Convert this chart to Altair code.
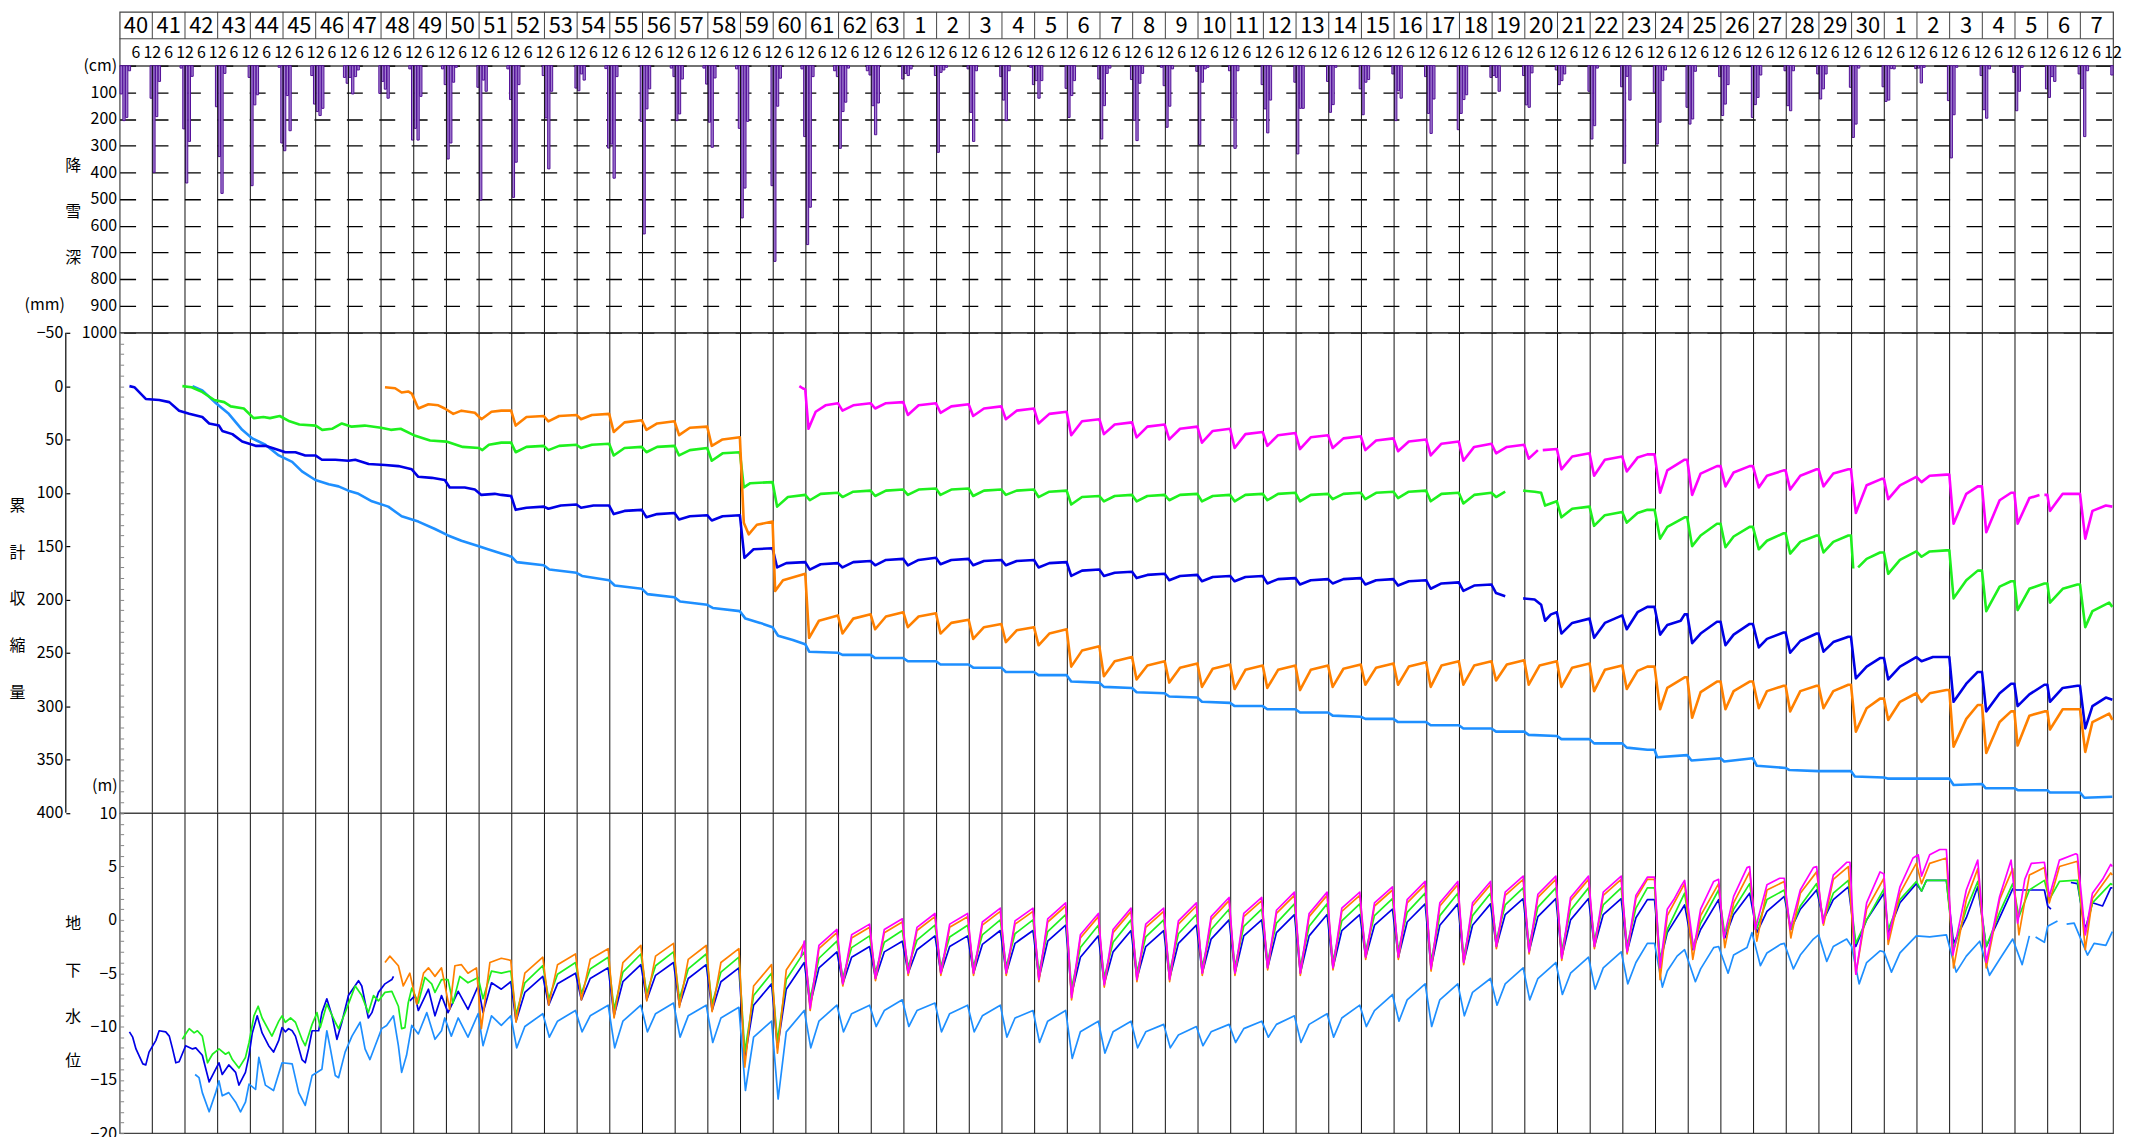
import altair as alt
import pandas as pd

FONT = "Noto Sans CJK JP"
W = 2000
H_HEAD, H_SNOW, H_SUB, H_GW = 54, 267.5, 481.5, 321

# ---------------- header ----------------
YEAR_LABELS = [str(y) for y in range(40, 64)] + [str(y) for y in range(1, 31)] + [str(y) for y in range(1, 8)]
N_YEARS = len(YEAR_LABELS)  # x axis: years since Jan 1965 (0..61)

# ---------------- snowfall (cm), per winter: month offsets from Jan and values ----------------
SNOW_MONTH = [
    [0, 1, 2, 3], [-1, 0, 1, 2], [-2, -1, 0, 1, 2], [-1, 0, 1, 2], [-1, 0, 1, 2],
    [-2, -1, 0, 1, 2], [-2, -1, 0, 1, 2], [-2, -1, 0, 1, 2, 3], [-1, 0, 1, 2], [-2, -1, 0, 1, 2],
    [-2, -1, 0, 1, 2, 3], [-1, 0, 1, 2], [-2, -1, 0, 1, 2], [-1, 0, 1, 2], [-1, 0, 1, 2],
    [-2, -1, 0, 1, 2], [-1, 0, 1, 2], [-2, -1, 0, 1, 2], [-2, -1, 0, 1, 2], [-2, -1, 0, 1, 2],
    [-1, 0, 1, 2], [-2, -1, 0, 1, 2], [-2, -1, 0, 1, 2, 3], [-2, -1, 0, 1, 2], [-1, 0, 1, 2],
    [-1, 0, 1, 2, 3], [-1, 0, 1, 2], [-1, 0, 1, 2], [-2, -1, 0, 1, 2], [-1, 0, 1, 2],
    [-1, 0, 1, 2, 3], [-1, 0, 1, 2, 3], [-2, -1, 0, 1, 2], [-1, 0, 1, 2, 3], [-1, 0, 1, 2],
    [-1, 0, 1, 2], [-1, 0, 1, 2], [-1, 0, 1, 2], [-1, 0, 1, 2], [-1, 0, 1, 2],
    [-1, 0, 1, 2], [-1, 0, 1, 2], [-1, 0, 1, 2], [-1, 0, 1, 2], [-1, 0, 1, 2],
    [-1, 0, 1, 2], [-1, 0, 1, 2], [-1, 0, 1, 2, 3], [-1, 0, 1, 2], [-1, 0, 1, 2],
    [-1, 0, 1, 2], [-1, 0, 1, 2], [-1, 0, 1, 2], [-1, 0, 1, 2], [-1, 0, 1, 2, 3],
    [-1, 0, 1, 2], [-1, 0, 1, 2], [-1, 0, 1, 2], [-1, 0, 1, 2], [-1, 0, 1, 2],
    [-1, 0, 1, 2], [-1],
]
SNOW_CM = [
    [106, 206, 194, 19], [122, 400, 191, 59], [9, 237, 440, 284, 40], [154, 341, 479, 29], [44, 450, 147, 109],
    [6, 290, 319, 112, 244], [37, 144, 172, 187, 160], [44, 66, 44, 106, 41, 16], [104, 59, 88, 122], [12, 279, 235, 279, 115],
    [12, 71, 350, 290, 62, 6], [81, 504, 54, 96], [12, 127, 494, 362, 71], [37, 196, 387, 96], [84, 94, 31, 54],
    [11, 309, 294, 422, 41], [209, 631, 162, 87], [9, 41, 206, 181, 50], [9, 69, 212, 306, 46], [12, 235, 571, 459, 209],
    [450, 734, 152, 47], [12, 266, 671, 531, 41], [19, 41, 310, 172, 137, 9], [19, 35, 150, 259, 140], [50, 29, 37, 12],
    [37, 325, 25, 16, 6], [12, 175, 284, 19], [41, 129, 206, 19], [6, 71, 56, 122, 56], [85, 194, 112, 56],
    [50, 275, 150, 29, 9], [52, 204, 281, 66, 29], [6, 75, 231, 152, 12], [21, 296, 62, 12, 6], [19, 196, 310, 19],
    [71, 162, 252, 129], [62, 331, 160, 160], [59, 175, 146, 6], [87, 184, 62, 52], [31, 206, 94, 122],
    [41, 179, 254, 125], [240, 179, 127, 109], [44, 37, 44, 96], [37, 147, 156, 27], [16, 71, 56, 31],
    [96, 275, 225, 9], [79, 366, 40, 129], [100, 294, 212, 56, 16], [156, 219, 200, 21], [41, 187, 144, 71],
    [194, 146, 119, 35], [19, 150, 169, 19], [31, 125, 87, 31], [81, 269, 219, 9], [79, 134, 129, 11, 12],
    [11, 9, 65, 6], [131, 346, 184, 6], [37, 165, 197, 12], [25, 169, 96, 6], [87, 119, 41, 59],
    [31, 85, 266, 19], [35],
]

# ---------------- cumulative subsidence (mm), (years since Jan 1965, value) ----------------
SUB_LIGHTBLUE = [
    (2.23, 0), (2.53, 4), (2.95, 16), (3.34, 26), (3.75, 41), (4.06, 49), (4.46, 55), (4.87, 65), (5.28, 71),
    (5.58, 80), (5.99, 88), (6.40, 92), (6.70, 94), (7.00, 98), (7.31, 101), (7.72, 108), (8.22, 113), (8.63, 122),
    (9.14, 127), (9.65, 134), (10.05, 140), (10.46, 145), (10.97, 150), (11.27, 153), (11.68, 157),
    (12.0, 160), (12.15, 165), (12.98, 168), (13.15, 172), (13.98, 175), (14.15, 178), (14.98, 182), (15.15, 187),
    (15.98, 190), (16.15, 195), (16.98, 198), (17.15, 202), (17.98, 205), (18.15, 208), (18.98, 211), (19.15, 218),
    (19.6, 222), (19.98, 226), (20.15, 234), (20.6, 238), (20.98, 242), (21.1, 249), (21.98, 250), (22.12, 252),
    (22.98, 252), (23.12, 255), (23.98, 255), (24.12, 258), (24.98, 258), (25.12, 261), (25.98, 261), (26.12, 264),
    (26.98, 264), (27.12, 268), (27.98, 268), (28.12, 271), (28.98, 271), (29.12, 277), (29.98, 278), (30.12, 282),
    (30.98, 283), (31.12, 287), (31.98, 288), (32.12, 291), (32.98, 292), (33.12, 296), (33.98, 297), (34.12, 300),
    (34.98, 300), (35.12, 303), (35.98, 303), (36.12, 306), (36.98, 306), (37.12, 309), (37.98, 310), (38.12, 312),
    (38.98, 312), (39.12, 315), (39.98, 315), (40.12, 318), (40.98, 318), (41.12, 321), (41.98, 321), (42.12, 324),
    (42.98, 324), (43.12, 327), (43.98, 328), (44.12, 331), (44.98, 331), (45.12, 335), (45.98, 335), (46.12, 339),
    (46.75, 341), (46.97, 341), (47.05, 348), (47.97, 346), (48.1, 351), (48.99, 349), (49.1, 352), (49.98, 349),
    (50.1, 356), (50.98, 358), (51.1, 360), (51.99, 361), (52.98, 361), (53.1, 366), (53.99, 367), (54.1, 368),
    (55.99, 368), (56.12, 374), (56.99, 373), (57.1, 377), (57.98, 377), (58.1, 379), (58.99, 379), (59.07, 381),
    (59.99, 381), (60.12, 386), (60.98, 385),
]
SUB_BLUE = [
    (0.30, 0), (0.45, 1), (0.80, 12), (1.21, 13), (1.52, 15), (1.82, 23), (2.13, 26), (2.53, 29), (2.74, 35),
    (3.04, 37), (3.14, 42), (3.45, 45), (3.75, 52), (4.16, 56), (4.46, 56), (4.77, 59), (5.07, 62), (5.38, 62),
    (5.68, 65), (5.99, 65), (6.19, 69), (6.60, 69), (7.00, 70), (7.21, 69), (7.62, 73), (8.12, 74), (8.53, 75),
    (8.94, 78), (9.14, 85), (9.55, 86), (9.95, 88), (10.10, 95), (10.56, 95), (10.87, 97), (11.07, 102),
    (11.48, 101), (11.68, 102),
    (11.98, 103), (12.12, 116), (12.45, 114), (12.98, 113), (13.12, 115), (13.5, 112), (13.98, 111),
    (14.12, 114), (14.5, 112), (14.98, 112), (15.12, 120), (15.45, 117), (15.98, 116), (16.12, 123), (16.45, 120),
    (16.98, 119), (17.12, 125), (17.45, 122), (17.98, 121), (18.12, 126), (18.45, 122), (18.98, 121),
    (19.12, 161), (19.4, 153), (19.98, 152), (20.12, 170), (20.4, 166), (20.98, 165), (21.12, 172), (21.45, 167),
    (21.98, 166), (22.12, 170), (22.45, 165), (22.98, 164), (23.12, 168), (23.45, 163), (23.98, 162),
    (24.12, 168), (24.45, 163), (24.98, 161), (25.12, 167), (25.45, 163), (25.98, 162), (26.12, 168), (26.45, 164),
    (26.98, 163), (27.12, 168), (27.45, 164), (27.98, 163), (28.12, 170), (28.45, 166), (28.98, 165),
    (29.12, 178), (29.45, 173), (29.98, 172), (30.12, 178), (30.45, 175), (30.98, 174), (31.12, 180), (31.45, 177),
    (31.98, 176), (32.12, 182), (32.45, 178), (32.98, 177), (33.12, 183), (33.45, 179), (33.98, 178),
    (34.12, 183), (34.45, 179), (34.98, 178), (35.12, 185), (35.45, 181), (35.98, 180), (36.12, 186), (36.45, 182),
    (36.98, 181), (37.12, 185), (37.45, 181), (37.98, 180), (38.12, 186), (38.45, 182), (38.98, 181),
    (39.12, 187), (39.45, 183), (39.98, 182), (40.12, 190), (40.45, 185), (40.98, 184), (41.12, 192), (41.45, 187),
    (41.98, 186), (42.12, 194), (42.4, 197), None,
    (42.95, 199), (43.3, 200), (43.5, 205), (43.62, 220), (43.8, 214), (43.98, 212), (44.12, 232), (44.45, 222),
    (44.98, 218), (45.12, 236), (45.45, 222), (45.98, 215), (46.12, 228), (46.45, 212),
    (46.75, 207), (46.97, 207), (47.14, 233), (47.36, 224), (47.77, 220), (47.89, 214), (47.97, 214), (48.12, 241),
    (48.38, 232), (48.88, 221), (48.99, 221), (49.14, 243), (49.39, 233), (49.88, 223), (49.98, 223), (50.16, 245),
    (50.41, 237), (50.92, 231), (50.98, 231), (51.12, 250), (51.43, 239), (51.93, 232), (51.99, 232), (52.14, 249),
    (52.44, 240), (52.90, 235), (52.98, 235), (53.13, 274), (53.46, 263), (53.87, 255), (53.99, 255), (54.12, 275),
    (54.48, 263), (54.98, 254), (55.14, 258), (55.49, 254), (55.99, 254), (56.12, 296), (56.51, 279), (56.86, 268),
    (56.99, 268), (57.12, 305), (57.53, 288), (57.88, 279), (57.98, 279), (58.08, 300), (58.44, 289), (58.90, 280),
    (58.99, 280), (59.07, 296), (59.46, 283), (59.91, 281), (59.99, 281), (60.15, 321), (60.37, 300), (60.78, 292),
    (60.98, 294),
]
SUB_GREEN = [
    (1.92, 0), (2.2, 1), (2.5, 5), (2.9, 13), (3.2, 15), (3.4, 19), (3.8, 21), (4.1, 30), (4.4, 29), (4.6, 30),
    (4.9, 28), (5.2, 33), (5.5, 36), (6.0, 37), (6.2, 41), (6.5, 40), (6.8, 35), (7.1, 38), (7.5, 37), (8.0, 39),
    (8.3, 41), (8.6, 40), (9.0, 46), (9.5, 51), (10.0, 52), (10.5, 57), (11.0, 58), (11.1, 60), (11.3, 55), (11.68, 53),
    (11.98, 53), (12.12, 62), (12.45, 57), (12.98, 56), (13.12, 60), (13.45, 56), (13.98, 55), (14.12, 58),
    (14.45, 55), (14.98, 54), (15.12, 65), (15.45, 58), (15.98, 57), (16.12, 62), (16.45, 57), (16.98, 56),
    (17.12, 65), (17.45, 60), (17.98, 58), (18.12, 70), (18.45, 63), (18.98, 62), (19.1, 95), (19.3, 91),
    (19.98, 90), (20.12, 113), (20.45, 104), (20.98, 102), (21.12, 107), (21.45, 101), (21.98, 100),
    (22.12, 104), (22.45, 99), (22.98, 98), (23.12, 103), (23.45, 98), (23.98, 97), (24.12, 102), (24.45, 97),
    (24.98, 96), (25.12, 102), (25.45, 97), (25.98, 96), (26.12, 103), (26.45, 98), (26.98, 97), (27.12, 102),
    (27.45, 98), (27.98, 97), (28.12, 104), (28.45, 99), (28.98, 98), (29.12, 111), (29.45, 104), (29.98, 103),
    (30.12, 108), (30.45, 103), (30.98, 102), (31.12, 108), (31.45, 103), (31.98, 102), (32.12, 107), (32.45, 102),
    (32.98, 101), (33.12, 108), (33.45, 103), (33.98, 102), (34.12, 108), (34.45, 102), (34.98, 101),
    (35.12, 107), (35.45, 101), (35.98, 100), (36.12, 108), (36.45, 102), (36.98, 101), (37.12, 106), (37.45, 101),
    (37.98, 100), (38.12, 106), (38.45, 100), (38.98, 99), (39.12, 105), (39.45, 99), (39.98, 98), (40.12, 108),
    (40.45, 101), (40.98, 100), (41.12, 110), (41.45, 102), (41.98, 100), (42.12, 104), (42.4, 99), None,
    (42.95, 98), (43.3, 99), (43.5, 100), (43.62, 112), (43.98, 108), (44.12, 123), (44.45, 115), (44.98, 113),
    (45.12, 131), (45.45, 121), (45.98, 118), (46.12, 128), (46.45, 119),
    (46.75, 116), (46.97, 116), (47.14, 143), (47.36, 132), (47.89, 123), (47.97, 123), (48.12, 150), (48.38, 140),
    (48.88, 129), (48.99, 129), (49.14, 151), (49.39, 141), (49.88, 132), (49.98, 132), (50.16, 153), (50.41, 145),
    (50.92, 138), (50.98, 138), (51.12, 157), (51.43, 146), (51.93, 140), (51.99, 140), (52.14, 156), (52.44, 146),
    (52.90, 140), (52.98, 140), (53.05, 171), None, (53.20, 170), (53.46, 162), (53.87, 156), (53.99, 156),
    (54.12, 176), (54.48, 163), (54.98, 155), (55.14, 160), (55.39, 155), (55.90, 154), (55.99, 154), (56.12, 199),
    (56.51, 182), (56.86, 173), (56.99, 173), (57.12, 211), (57.53, 188), (57.88, 183), (57.98, 183), (58.08, 210),
    (58.44, 190), (58.90, 185), (58.99, 185), (59.07, 203), (59.46, 190), (59.91, 186), (59.99, 186), (60.15, 226),
    (60.37, 211), (60.88, 203), (60.98, 207),
]
SUB_ORANGE = [
    (8.12, 1), (8.43, 2), (8.63, 6), (8.83, 5), (8.94, 7), (9.14, 21), (9.45, 17), (9.75, 18), (9.95, 21),
    (10.21, 26), (10.46, 23), (10.87, 25), (11.07, 31), (11.38, 24), (11.68, 23),
    (11.98, 23), (12.12, 37), (12.45, 29), (12.98, 28), (13.12, 33), (13.45, 28), (13.98, 27), (14.12, 31),
    (14.45, 27), (14.98, 26), (15.12, 43), (15.45, 34), (15.98, 32), (16.12, 41), (16.45, 35), (16.98, 33),
    (17.12, 46), (17.45, 39), (17.98, 38), (18.12, 56), (18.45, 50), (18.98, 48), (19.1, 128), (19.25, 139),
    (19.5, 130), (19.98, 127), (20.06, 192), (20.3, 182), (20.98, 176), (21.1, 236), (21.4, 220), (21.98, 215),
    (22.12, 232), (22.45, 218), (22.98, 214), (23.12, 228), (23.45, 216), (23.98, 212), (24.12, 226), (24.45, 216),
    (24.98, 213), (25.12, 232), (25.45, 222), (25.98, 219), (26.12, 237), (26.45, 226), (26.98, 223),
    (27.12, 240), (27.45, 229), (27.98, 226), (28.12, 243), (28.45, 232), (28.98, 228), (29.12, 263), (29.45, 248),
    (29.98, 244), (30.12, 272), (30.45, 258), (30.98, 254), (31.12, 275), (31.45, 262), (31.98, 258),
    (32.12, 278), (32.45, 264), (32.98, 260), (33.12, 282), (33.45, 265), (33.98, 261), (34.12, 284), (34.45, 266),
    (34.98, 262), (35.12, 283), (35.45, 266), (35.98, 262), (36.12, 285), (36.45, 266), (36.98, 262),
    (37.12, 282), (37.45, 265), (37.98, 261), (38.12, 280), (38.45, 264), (38.98, 260), (39.12, 280), (39.45, 263),
    (39.98, 259), (40.12, 282), (40.45, 262), (40.98, 258), (41.12, 280), (41.45, 262), (41.98, 258),
    (42.12, 276), (42.45, 261), (42.98, 257), (43.12, 280), (43.45, 262), (43.98, 258), (44.12, 282), (44.45, 264),
    (44.98, 260), (45.12, 286), (45.45, 266), (45.98, 262), (46.12, 284), (46.45, 267),
    (46.75, 263), (46.97, 263), (47.14, 303), (47.36, 283), (47.89, 273), (47.97, 273), (48.12, 311), (48.38, 287),
    (48.88, 277), (48.99, 277), (49.14, 303), (49.39, 286), (49.88, 277), (49.98, 277), (50.16, 302), (50.41, 286),
    (50.92, 281), (50.98, 281), (51.12, 305), (51.43, 286), (51.93, 281), (51.99, 281), (52.14, 302), (52.44, 286),
    (52.90, 280), (52.98, 280), (53.13, 324), (53.46, 302), (53.87, 293), (53.99, 293), (54.12, 313), (54.48, 296),
    (54.98, 288), (55.14, 296), (55.39, 288), (55.90, 285), (55.99, 285), (56.12, 338), (56.51, 312), (56.86, 299),
    (56.99, 299), (57.12, 344), (57.53, 315), (57.88, 305), (57.98, 305), (58.08, 337), (58.44, 309), (58.90, 305),
    (58.99, 305), (59.07, 322), (59.46, 303), (59.91, 303), (59.99, 303), (60.15, 343), (60.37, 315), (60.88, 307),
    (60.98, 313),
]
SUB_MAGENTA = [
    (20.8, 0), (20.9, 2), (20.98, 3), (21.08, 40), (21.3, 24), (21.6, 18), (21.98, 16), (22.12, 23), (22.45, 18),
    (22.98, 16), (23.12, 21), (23.45, 16), (23.98, 15), (24.12, 27), (24.45, 18), (24.98, 16), (25.12, 25),
    (25.45, 19), (25.98, 17), (26.12, 28), (26.45, 21), (26.98, 19), (27.12, 31), (27.45, 23), (27.98, 21),
    (28.12, 35), (28.45, 26), (28.98, 24), (29.12, 46), (29.45, 33), (29.98, 31), (30.12, 45), (30.45, 36),
    (30.98, 34), (31.12, 48), (31.45, 38), (31.98, 36), (32.12, 50), (32.45, 40), (32.98, 38), (33.12, 53),
    (33.45, 42), (33.98, 40), (34.12, 58), (34.45, 45), (34.98, 43), (35.12, 56), (35.45, 46), (35.98, 44),
    (36.12, 59), (36.45, 48), (36.98, 46), (37.12, 58), (37.45, 49), (37.98, 47), (38.12, 60), (38.45, 51),
    (38.98, 49), (39.12, 61), (39.45, 52), (39.98, 50), (40.12, 65), (40.45, 54), (40.98, 52), (41.12, 70),
    (41.45, 57), (41.98, 54), (42.12, 63), (42.45, 57), (42.98, 55), (43.12, 68), (43.4, 60), None, (43.55, 60),
    (43.98, 59), (44.12, 78), (44.45, 66), (44.98, 63), (45.12, 84), (45.45, 69), (45.98, 66), (46.12, 80),
    (46.45, 67),
    (46.75, 64), (46.97, 64), (47.14, 100), (47.36, 79), (47.89, 69), (47.97, 69), (48.12, 102), (48.38, 82),
    (48.88, 75), (48.99, 75), (49.14, 94), (49.39, 81), (49.88, 75), (49.98, 75), (50.16, 95), (50.41, 84),
    (50.92, 79), (50.98, 79), (51.12, 97), (51.43, 84), (51.93, 78), (51.99, 78), (52.14, 94), (52.44, 82),
    (52.90, 78), (52.98, 78), (53.13, 119), (53.46, 93), (53.92, 87), (53.99, 87), (54.12, 106), (54.48, 93),
    (54.98, 85), (55.14, 90), (55.39, 84), (55.90, 83), (55.99, 83), (56.12, 129), (56.51, 101), (56.86, 94),
    (56.99, 94), (57.12, 137), (57.53, 107), (57.88, 100), (57.98, 100), (58.08, 129), (58.44, 105), (58.75, 102),
    None, (58.90, 102), (58.99, 102), (59.07, 117), (59.46, 101), (59.91, 101), (59.99, 101), (60.15, 143),
    (60.37, 117), (60.78, 112), (60.98, 113),
]

# ---------------- groundwater level (m) ----------------
GW_LIGHTBLUE = [
    (2.31, -14.5), (2.43, -14.8), (2.53, -16.2), (2.74, -18.0), (2.94, -16.2), (3.04, -15.1), (3.14, -16.5),
    (3.34, -16.2), (3.55, -17.1), (3.70, -18.0), (3.85, -17.1), (3.96, -15.4), (4.16, -15.9), (4.26, -12.9),
    (4.46, -15.5), (4.71, -16.0), (4.97, -13.4), (5.28, -13.5), (5.48, -16.2), (5.68, -17.4), (5.89, -14.6),
    (6.19, -14.0), (6.34, -10.4), (6.45, -12.1), (6.60, -14.6), (6.70, -14.8), (6.90, -12.4), (7.11, -10.9),
    (7.36, -9.6), (7.51, -12.1), (7.66, -13.1), (7.82, -11.8), (8.02, -10.2), (8.17, -9.9), (8.38, -9.0),
    (8.53, -11.8), (8.63, -14.3), (8.78, -12.7), (8.94, -9.9), (9.14, -10.7), (9.40, -8.7), (9.65, -11.2),
    (9.85, -10.4), (9.95, -9.2), (10.15, -10.9), (10.36, -9.2), (10.66, -11.0), (10.97, -8.8), (11.12, -11.8),
    (11.38, -9.0), (11.68, -9.9),
    (11.97, -9.0), (12.15, -12.0), (12.4, -10.0), (12.95, -8.8), (13.15, -11.0), (13.4, -9.5), (13.95, -8.5),
    (14.15, -10.5), (14.4, -9.0), (14.95, -8.0), (15.15, -12.0), (15.4, -9.5), (15.95, -8.0), (16.15, -10.5),
    (16.4, -8.8), (16.95, -7.8), (17.15, -11.0), (17.4, -9.0), (17.95, -8.0), (18.15, -11.5), (18.4, -9.2),
    (18.95, -8.2), (19.15, -16.0), (19.4, -11.0), (19.95, -9.5), (20.15, -16.8), (20.4, -10.5), (20.95, -8.5),
    (21.15, -12.0), (21.4, -9.5), (21.95, -8.0), (22.15, -10.5), (22.4, -8.8), (22.95, -8.0), (23.15, -10.0),
    (23.4, -8.5), (23.95, -7.5), (24.15, -10.0), (24.4, -8.5), (24.95, -7.8), (25.15, -10.5), (25.4, -8.8),
    (25.95, -8.0), (26.15, -10.5), (26.4, -9.0), (26.95, -8.0), (27.15, -11.0), (27.4, -9.2), (27.95, -8.5),
    (28.15, -11.5), (28.4, -9.5), (28.95, -8.5), (29.15, -13.0), (29.4, -10.5), (29.95, -9.5), (30.15, -12.5),
    (30.4, -10.5), (30.95, -9.5), (31.15, -12.0), (31.4, -10.5), (31.95, -9.8), (32.15, -12.0), (32.4, -10.8),
    (32.95, -10.0), (33.15, -11.8), (33.4, -10.5), (33.95, -9.8), (34.15, -11.5), (34.4, -10.2), (34.95, -9.5),
    (35.15, -11.0), (35.4, -9.8), (35.95, -9.0), (36.15, -11.5), (36.4, -9.8), (36.95, -8.8), (37.15, -11.0),
    (37.4, -9.2), (37.95, -8.0), (38.15, -10.0), (38.4, -8.5), (38.95, -7.0), (39.15, -9.5), (39.4, -7.5),
    (39.95, -6.0), (40.15, -10.0), (40.4, -7.5), (40.95, -6.0), (41.15, -9.0), (41.4, -6.8), (41.95, -5.5),
    (42.15, -8.0), (42.4, -6.0), (42.95, -4.5), (43.15, -7.5), (43.4, -5.5), (43.95, -4.0), (44.15, -7.0),
    (44.4, -5.0), (44.95, -3.5), (45.15, -6.5), (45.4, -4.5), (45.95, -3.0), (46.15, -6.0), (46.4, -4.0),
    (46.75, -2.2), (46.97, -2.2), (47.21, -6.3), (47.36, -4.8), (47.66, -3.4), (47.89, -2.8), (48.22, -5.8),
    (48.38, -4.6), (48.78, -2.6), (48.93, -2.5), (49.22, -5.0), (49.39, -3.3), (49.80, -2.6), (49.95, -1.2),
    (50.21, -4.3), (50.41, -3.1), (50.82, -2.3), (50.94, -2.2), (51.22, -4.6), (51.43, -3.3), (51.83, -1.8),
    (51.99, -1.4), (52.24, -3.9), (52.44, -2.5), (52.85, -1.8), (53.0, -2.5), (53.23, -6.0), (53.46, -4.0),
    (53.87, -2.9), (53.99, -3.0), (54.22, -4.9), (54.48, -3.1), (54.98, -1.5), (55.39, -1.6), (55.90, -1.4),
    (56.20, -4.9), (56.51, -3.4), (56.92, -2.0), (57.22, -5.2), (57.53, -3.7), (57.93, -1.8), (58.22, -4.2),
    (58.44, -1.5), None, (58.63, -1.6), (58.90, -2.1), (59.0, -0.6), (59.30, -0.1), None, (59.58, -0.4),
    (59.81, -0.3), (60.22, -3.3), (60.42, -2.2), (60.78, -2.4), (60.98, -1.1),
]
GW_BLUE = [
    (0.30, -10.5), (0.40, -11.0), (0.50, -12.1), (0.71, -13.5), (0.80, -13.6), (0.90, -12.4), (1.11, -11.3),
    (1.21, -10.4), (1.41, -10.5), (1.52, -10.9), (1.62, -12.1), (1.72, -13.4), (1.82, -13.3), (2.02, -11.8),
    (2.23, -12.1), (2.33, -12.0), (2.53, -12.7), (2.74, -15.2), (2.94, -14.0), (3.04, -13.4), (3.14, -14.5),
    (3.34, -13.6), (3.55, -14.3), (3.65, -15.5), (3.85, -14.3), (3.96, -12.7), (4.06, -10.6), (4.21, -9.0),
    (4.36, -10.6), (4.56, -11.8), (4.71, -12.4), (4.87, -11.3), (4.97, -10.1), (5.07, -10.5), (5.17, -10.2),
    (5.28, -10.4), (5.38, -10.9), (5.58, -13.1), (5.68, -13.4), (5.78, -12.1), (5.89, -10.4), (6.09, -10.4),
    (6.19, -8.7), (6.34, -7.4), (6.50, -9.0), (6.65, -11.2), (6.80, -9.6), (7.00, -7.1), (7.31, -5.7),
    (7.41, -6.2), (7.61, -9.2), (7.72, -8.7), (7.92, -6.8), (8.12, -6.0), (8.33, -5.6), (8.38, -5.3), None,
    (8.88, -7.6), (9.04, -7.1), (9.14, -8.5), (9.45, -6.5), (9.65, -9.0), (9.85, -7.1), (10.05, -8.7),
    (10.36, -6.7), (10.66, -8.4), (10.97, -6.2), (11.12, -8.7), (11.38, -5.9), (11.68, -6.5),
    (11.97, -5.8), (12.13, -9.5), (12.4, -6.8), (12.95, -5.3), (13.13, -8.0), (13.4, -6.0), (13.95, -5.0),
    (14.13, -7.5), (14.4, -5.5), (14.95, -4.5), (15.13, -9.0), (15.4, -5.8), (15.95, -4.2), (16.13, -7.5),
    (16.4, -5.2), (16.95, -4.0), (17.13, -8.0), (17.4, -5.5), (17.95, -4.2), (18.13, -8.5), (18.4, -5.8),
    (18.95, -4.5), (19.13, -13.0), (19.4, -8.0), (19.95, -6.0), (20.13, -12.0), (20.4, -6.5), (20.95, -4.0),
    (21.13, -8.0), (21.4, -4.5), (21.95, -3.0), (22.13, -6.0), (22.4, -3.5), (22.95, -2.5), (23.13, -5.5),
    (23.4, -3.0), (23.95, -2.0), (24.13, -5.0), (24.4, -2.8), (24.95, -1.5), (25.13, -5.0), (25.4, -2.5),
    (25.95, -1.5), (26.13, -5.0), (26.4, -2.3), (26.95, -1.0), (27.13, -5.0), (27.4, -2.2), (27.95, -1.0),
    (28.13, -5.5), (28.4, -2.0), (28.95, -0.5), (29.13, -7.0), (29.4, -3.5), (29.95, -1.5), (30.13, -6.0),
    (30.4, -3.0), (30.95, -1.0), (31.13, -5.5), (31.4, -2.5), (31.95, -1.0), (32.13, -5.5), (32.4, -2.2),
    (32.95, -0.5), (33.13, -5.0), (33.4, -1.8), (33.95, 0.0), (34.13, -5.0), (34.4, -1.5), (34.95, 0.0),
    (35.13, -4.5), (35.4, -1.2), (35.95, 0.5), (36.13, -5.0), (36.4, -1.5), (36.95, 0.5), (37.13, -4.5),
    (37.4, -1.0), (37.95, 0.5), (38.13, -3.5), (38.4, -0.5), (38.95, 1.0), (39.13, -3.5), (39.4, -0.2),
    (39.95, 1.5), (40.13, -4.5), (40.4, -0.5), (40.95, 1.5), (41.13, -4.0), (41.4, -0.5), (41.95, 1.5),
    (42.13, -2.5), (42.4, 0.5), (42.95, 2.0), (43.13, -3.0), (43.4, 0.3), (43.95, 2.0), (44.13, -3.5),
    (44.4, 0.0), (44.95, 2.0), (45.13, -2.5), (45.4, 0.5), (45.95, 2.0), (46.13, -3.0), (46.4, 0.2),
    (46.75, 1.9), (46.97, 1.9), (47.14, -4.0), (47.36, -1.2), (47.89, 1.4), (48.14, -2.8), (48.38, -0.9),
    (48.93, 1.9), (49.12, -1.7), (49.39, 0.5), (49.88, 2.5), (50.10, -1.2), (50.41, 0.8), (50.94, 2.2),
    (51.14, -0.9), (51.43, 1.0), (51.93, 2.8), (52.14, 0.0), (52.44, 1.9), (52.90, 3.1), (53.13, -2.5),
    (53.46, 0.0), (53.99, 2.5), (54.12, -1.2), (54.48, 1.6), (54.98, 3.4), (55.14, 2.7), (55.29, 3.7),
    (55.90, 3.7), (56.12, -2.2), (56.51, 0.2), (56.86, 3.1), (57.12, -2.5), (57.53, 0.2), (57.93, 2.9),
    (58.04, 2.8), (58.44, 2.8), (58.90, 2.8), (59.00, 1.3), (59.10, 1.0), None, (59.71, 3.5), (59.91, 3.4),
    (60.15, -0.9), (60.37, 1.6), (60.68, 1.3), (60.93, 3.0), (60.98, 3.0),
]
GW_GREEN = [
    (1.92, -11.2), (2.02, -10.7), (2.13, -10.2), (2.28, -10.6), (2.38, -10.4), (2.53, -10.9), (2.69, -13.4),
    (2.84, -12.6), (3.04, -12.1), (3.24, -12.6), (3.34, -12.4), (3.45, -13.1), (3.65, -13.9), (3.85, -12.9),
    (3.96, -11.5), (4.11, -9.0), (4.24, -8.1), (4.36, -9.2), (4.66, -10.9), (4.87, -9.5), (4.97, -9.0),
    (5.07, -9.6), (5.23, -9.2), (5.38, -9.6), (5.58, -11.2), (5.68, -11.8), (5.89, -9.8), (6.04, -8.7),
    (6.14, -10.1), (6.34, -7.9), (6.60, -9.6), (6.70, -10.2), (6.90, -8.7), (7.21, -6.2), (7.41, -7.1),
    (7.61, -8.7), (7.77, -7.1), (7.92, -7.6), (8.12, -6.8), (8.33, -6.7), (8.53, -8.1), (8.63, -10.2),
    (8.73, -10.1), (8.83, -7.8), (8.94, -6.4), (9.14, -7.8), (9.34, -5.4), (9.55, -6.0), (9.65, -6.8),
    (9.85, -5.6), (10.05, -5.6), (10.20, -7.8), (10.41, -5.3), (10.66, -5.9), (10.97, -5.4), (11.12, -7.4),
    (11.38, -4.8), (11.68, -5.0),
    (11.97, -4.8), (12.13, -8.9), (12.4, -5.9), (12.95, -4.3), (13.13, -7.4), (13.4, -5.1), (13.95, -4.0),
    (14.13, -6.9), (14.4, -4.6), (14.95, -3.5), (15.13, -8.4), (15.4, -4.9), (15.95, -3.2), (16.13, -6.9),
    (16.4, -4.3), (16.95, -3.0), (17.13, -7.4), (17.4, -4.6), (17.95, -3.2), (18.13, -7.9), (18.4, -4.9),
    (18.95, -3.5), (19.13, -12.4), (19.4, -7.1), (19.95, -5.0), (20.13, -11.4), (20.4, -5.6), (20.95, -3.0),
    (21.13, -7.4), (21.4, -3.6), (21.95, -2.0), (22.13, -5.4), (22.4, -2.6), (22.95, -1.5), (23.13, -4.9),
    (23.4, -2.1), (23.95, -1.0), (24.13, -4.4), (24.4, -1.9), (24.95, -0.5), (25.13, -4.4), (25.4, -1.6),
    (25.95, -0.5), (26.13, -4.4), (26.4, -1.4), (26.95, 0.0), (27.13, -4.4), (27.4, -1.3), (27.95, 0.0),
    (28.13, -4.9), (28.4, -1.1), (28.95, 0.5), (29.13, -6.4), (29.4, -2.6), (29.95, -0.5), (30.13, -5.4),
    (30.4, -2.1), (30.95, 0.0), (31.13, -4.9), (31.4, -1.6), (31.95, 0.0), (32.13, -4.9), (32.4, -1.3),
    (32.95, 0.5), (33.13, -4.4), (33.4, -0.9), (33.95, 1.0), (34.13, -4.4), (34.4, -0.6), (34.95, 1.0),
    (35.13, -3.9), (35.4, -0.3), (35.95, 1.5), (36.13, -4.4), (36.4, -0.6), (36.95, 1.5), (37.13, -3.9),
    (37.4, -0.1), (37.95, 1.5), (38.13, -2.9), (38.4, 0.4), (38.95, 2.0), (39.13, -2.9), (39.4, 0.7),
    (39.95, 2.5), (40.13, -3.9), (40.4, 0.4), (40.95, 2.5), (41.13, -3.4), (41.4, 0.4), (41.95, 2.5),
    (42.13, -1.9), (42.4, 1.4), (42.95, 3.0), (43.13, -2.4), (43.4, 1.2), (43.95, 3.0), (44.13, -2.9),
    (44.4, 0.9), (44.95, 3.0), (45.13, -1.9), (45.4, 1.4), (45.95, 3.0), (46.13, -2.4), (46.4, 1.1),
    (46.75, 3.0), (46.97, 3.0), (47.14, -3.7), (47.36, -0.9), (47.89, 2.5), (48.14, -2.6), (48.38, -0.3),
    (48.93, 2.8), (49.12, -1.4), (49.39, 1.0), (49.88, 3.4), (50.10, -0.8), (50.41, 1.9), (50.94, 2.8),
    (51.14, -0.9), (51.43, 1.3), (51.93, 3.4), (52.14, 0.0), (52.44, 2.5), (52.90, 3.7), (53.13, -2.2),
    (53.46, 0.0), (53.99, 2.9), (54.12, -0.9), (54.48, 1.9), (54.98, 3.6), (55.14, 2.7), (55.29, 3.7),
    (55.90, 3.7), (56.12, -2.8), (56.51, 1.0), (56.86, 3.6), (57.12, -2.5), (57.53, 0.7), (57.93, 3.4),
    (58.12, 0.3), (58.44, 2.8), (58.90, 3.7), (59.05, 1.9), (59.36, 3.6), (59.81, 3.7), (59.91, 3.7),
    (60.15, -1.3), (60.37, 1.6), (60.93, 3.4), (60.98, 3.3),
]
GW_ORANGE = [
    (8.12, -4.0), (8.27, -3.4), (8.53, -4.3), (8.68, -6.2), (8.88, -5.0), (9.09, -7.9), (9.30, -5.0),
    (9.45, -4.5), (9.65, -5.3), (9.85, -4.5), (10.10, -8.4), (10.26, -4.3), (10.46, -4.2), (10.66, -5.0),
    (10.92, -4.5), (11.07, -10.2), (11.33, -4.0), (11.68, -3.6),
    (11.97, -3.8), (12.13, -9.6), (12.4, -5.0), (12.95, -3.5), (13.13, -8.0), (13.4, -4.2), (13.95, -3.2),
    (14.13, -7.5), (14.4, -3.7), (14.95, -2.7), (15.13, -9.2), (15.4, -4.0), (15.95, -2.4), (16.13, -7.6),
    (16.4, -3.4), (16.95, -2.2), (17.13, -8.2), (17.4, -3.7), (17.95, -2.4), (18.13, -8.6), (18.4, -4.0),
    (18.95, -2.7), (19.13, -13.8), (19.4, -6.2), (19.95, -4.2), (20.13, -12.5), (20.4, -4.7), (20.95, -2.2),
    (21.13, -8.5), (21.4, -2.7), (21.95, -1.2), (22.13, -6.2), (22.4, -1.7), (22.95, -0.7), (23.13, -5.7),
    (23.4, -1.2), (23.95, -0.2), (24.13, -5.2), (24.4, -1.0), (24.95, 0.3), (25.13, -5.2), (25.4, -0.7),
    (25.95, 0.3), (26.13, -5.2), (26.4, -0.5), (26.95, 0.8), (27.13, -5.2), (27.4, -0.4), (27.95, 0.8),
    (28.13, -5.8), (28.4, -0.2), (28.95, 1.3), (29.13, -7.5), (29.4, -1.7), (29.95, 0.3), (30.13, -6.3),
    (30.4, -1.2), (30.95, 0.8), (31.13, -5.8), (31.4, -0.7), (31.95, 0.8), (32.13, -5.8), (32.4, -0.4),
    (32.95, 1.3), (33.13, -5.2), (33.4, 0.0), (33.95, 1.8), (34.13, -5.2), (34.4, 0.3), (34.95, 1.8),
    (35.13, -4.7), (35.4, 0.6), (35.95, 2.3), (36.13, -5.2), (36.4, 0.3), (36.95, 2.3), (37.13, -4.7),
    (37.4, 0.8), (37.95, 2.3), (38.13, -3.7), (38.4, 1.3), (38.95, 2.8), (39.13, -3.7), (39.4, 1.6),
    (39.95, 3.3), (40.13, -4.8), (40.4, 1.3), (40.95, 3.3), (41.13, -4.2), (41.4, 1.3), (41.95, 3.3),
    (42.13, -2.7), (42.4, 2.3), (42.95, 3.8), (43.13, -3.2), (43.4, 2.1), (43.95, 3.8), (44.13, -3.8),
    (44.4, 1.8), (44.95, 3.8), (45.13, -2.7), (45.4, 2.3), (45.95, 3.8), (46.13, -3.2), (46.4, 2.0),
    (46.75, 3.8), (46.97, 3.8), (47.14, -5.6), (47.36, 0.4), (47.89, 3.4), (48.14, -3.7), (48.38, 0.4),
    (48.93, 3.4), (49.12, -2.6), (49.39, 1.6), (49.88, 4.5), (50.10, -2.0), (50.41, 2.8), (50.94, 3.6),
    (51.14, -1.7), (51.43, 2.5), (51.93, 4.5), (52.14, -0.5), (52.44, 3.8), (52.90, 5.0), (53.13, -5.1),
    (53.46, 1.0), (53.99, 3.9), (54.12, -2.3), (54.48, 2.5), (54.98, 5.3), (55.14, 3.4), (55.39, 5.3),
    (55.90, 5.8), (56.12, -4.5), (56.51, 1.9), (56.86, 4.8), (57.12, -4.5), (57.53, 1.9), (57.93, 4.8),
    (58.12, -1.4), (58.44, 4.2), (58.90, 4.9), (59.05, 1.6), (59.36, 5.0), (59.91, 5.5), (60.15, -2.8),
    (60.37, 2.0), (60.93, 4.4), (60.98, 4.2),
]
GW_MAGENTA = [
    (20.85, -3.5), (20.95, -2.0), (21.13, -8.3), (21.4, -2.4), (21.95, -0.9), (22.13, -6.0), (22.4, -1.4),
    (22.95, -0.4), (23.13, -5.5), (23.4, -0.9), (23.95, 0.1), (24.13, -5.0), (24.4, -0.7), (24.95, 0.6),
    (25.13, -5.0), (25.4, -0.4), (25.95, 0.6), (26.13, -5.0), (26.4, -0.2), (26.95, 1.1), (27.13, -5.0),
    (27.4, -0.1), (27.95, 1.1), (28.13, -5.6), (28.4, 0.1), (28.95, 1.6), (29.13, -7.3), (29.4, -1.4),
    (29.95, 0.6), (30.13, -6.1), (30.4, -0.9), (30.95, 1.1), (31.13, -5.6), (31.4, -0.4), (31.95, 1.1),
    (32.13, -5.6), (32.4, -0.1), (32.95, 1.6), (33.13, -5.0), (33.4, 0.3), (33.95, 2.1), (34.13, -5.0),
    (34.4, 0.6), (34.95, 2.1), (35.13, -4.5), (35.4, 0.9), (35.95, 2.6), (36.13, -5.0), (36.4, 0.6),
    (36.95, 2.6), (37.13, -4.5), (37.4, 1.1), (37.95, 2.6), (38.13, -3.5), (38.4, 1.6), (38.95, 3.1),
    (39.13, -3.5), (39.4, 1.9), (39.95, 3.6), (40.13, -4.6), (40.4, 1.6), (40.95, 3.6), (41.13, -4.0),
    (41.4, 1.6), (41.95, 3.6), (42.13, -2.5), (42.4, 2.6), (42.95, 4.1), (43.13, -3.0), (43.4, 2.4),
    (43.95, 4.1), (44.13, -3.6), (44.4, 2.1), (44.95, 4.1), (45.13, -2.5), (45.4, 2.6), (45.95, 4.1),
    (46.13, -3.0), (46.4, 2.3),
    (46.75, 4.0), (46.97, 4.0), (47.14, -4.5), (47.36, 1.0), (47.56, 1.9), (47.77, 3.1), (47.89, 3.7),
    (48.17, -2.8), (48.38, 1.0), (48.78, 3.6), (48.93, 3.8), (49.09, -1.7), (49.39, 2.2), (49.80, 4.9),
    (49.88, 5.0), (50.05, -0.9), (50.41, 3.3), (50.80, 3.9), (50.94, 3.9), (51.12, -0.9), (51.43, 2.8),
    (51.83, 4.9), (51.93, 5.0), (52.12, -0.3), (52.44, 4.2), (52.85, 5.4), (52.95, 5.4), (53.13, -5.1),
    (53.46, 1.6), (53.87, 4.5), (53.99, 4.3), (54.12, -1.8), (54.48, 3.1), (54.88, 5.8), (55.04, 6.1),
    (55.14, 4.1), (55.39, 6.1), (55.70, 6.6), (55.90, 6.6), (56.10, -3.3), (56.51, 2.8), (56.86, 5.6),
    (57.12, -4.0), (57.53, 2.2), (57.88, 5.6), (58.08, -0.3), (58.30, 3.8), (58.50, 5.3), (58.90, 5.4),
    (59.05, 2.2), (59.36, 5.6), (59.86, 6.2), (59.91, 6.1), (60.15, -1.4), (60.37, 2.5), (60.68, 3.8),
    (60.93, 5.2), (60.98, 5.0),
]

SERIES = ["lightblue", "blue", "green", "orange", "magenta"]
COLORS = ["#1e8fff", "#0000e6", "#1ef01e", "#ff8000", "#ff00ff"]


def lines_frame(named):
    rows = []
    for name, pts in named:
        seg = 0
        for p in pts:
            if p is None:
                seg += 1
                continue
            rows.append({"t": p[0], "v": p[1], "s": name, "seg": f"{name}-{seg}"})
    return pd.DataFrame(rows)


sub_df = lines_frame(list(zip(SERIES, [SUB_LIGHTBLUE, SUB_BLUE, SUB_GREEN, SUB_ORANGE, SUB_MAGENTA])))
gw_df = lines_frame(list(zip(SERIES, [GW_LIGHTBLUE, GW_BLUE, GW_GREEN, GW_ORANGE, GW_MAGENTA])))

snow_rows = []
for j, (months, vals) in enumerate(zip(SNOW_MONTH, SNOW_CM)):
    for k, v in zip(months, vals):
        c = j + (k + 0.6) / 12
        snow_rows.append({"t0": c - 0.42 / 12, "t1": c + 0.42 / 12, "base": 0, "cm": v})
snow_df = pd.DataFrame(snow_rows)

years_df = pd.DataFrame({"t": [j + 0.5 for j in range(N_YEARS)], "label": YEAR_LABELS})
bounds_df = pd.DataFrame({"t": list(range(1, N_YEARS))})
month_df = pd.DataFrame({
    "t": [j + 0.5 for j in range(N_YEARS)] + [j + 1 for j in range(N_YEARS)],
    "label": ["6"] * N_YEARS + ["12"] * N_YEARS,
})
one = pd.DataFrame({"a": [0]})

X = alt.X("t:Q", scale=alt.Scale(domain=[0, N_YEARS], nice=False, zero=False), axis=None)
color = alt.Color("s:N", scale=alt.Scale(domain=SERIES, range=COLORS), legend=None)


def vrules():
    return alt.Chart(bounds_df).mark_rule(color="#111", strokeWidth=1).encode(x=X)


def label(txt, px, py, align="center", size=16):
    return alt.Chart(one).mark_text(text=txt, font=FONT, fontSize=size, align=align,
                                    baseline="middle", color="#000").encode(
        x=alt.value(px), y=alt.value(py))


# ---------------- header panel ----------------
head = alt.layer(
    alt.Chart(years_df).mark_text(font=FONT, fontSize=22, baseline="middle", color="#000").encode(
        x=X, y=alt.value(14), text="label:N"),
    alt.Chart(month_df).mark_text(font=FONT, fontSize=16, baseline="middle", color="#000").encode(
        x=X, y=alt.value(41), text="label:N"),
    alt.Chart(bounds_df).mark_rule(color="#444", strokeWidth=1).encode(x=X, y=alt.value(0), y2=alt.value(27)),
    alt.Chart(one).mark_rule(color="#444", strokeWidth=1).encode(x=alt.value(0), x2=alt.value(W), y=alt.value(27)),
).properties(width=W, height=H_HEAD)

# ---------------- snowfall panel ----------------
snow_axis = alt.Axis(values=list(range(0, 1001, 100)), labelExpr="datum.value == 0 ? '(cm)' : datum.label",
                     format="d", ticks=False, domain=False, grid=True, gridDash=[16, 16.5], gridColor="#000",
                     gridWidth=1.3, labelPadding=3, labelFontSize=16, labelFont=FONT, labelOverlap=False,
                     labelFlush=False, title=None)
snow = alt.layer(
    alt.Chart(snow_df).mark_bar(fill="#a27fd0", stroke="#520f98", strokeWidth=1.0).encode(
        x=alt.X("t0:Q", scale=alt.Scale(domain=[0, N_YEARS], nice=False, zero=False), axis=None),
        x2="t1:Q",
        y=alt.Y("base:Q", scale=alt.Scale(domain=[0, 1000], reverse=True, nice=False), axis=snow_axis),
        y2="cm:Q"),
    vrules(),
    label("降", -46.5, 100.5), label("雪", -46.5, 146.5), label("深", -46.5, 192.5),
    label("(mm)", -55, 240.5, align="right"),
).properties(width=W, height=H_SNOW)

# ---------------- subsidence panel ----------------
sub_scale = alt.Scale(domain=[-50, 400], reverse=True, nice=False, zero=False)
sub_axis = alt.Axis(values=list(range(-50, 401, 50)), orient="left", offset=50, tickSize=4, tickColor="#000",
                    tickWidth=1.2, domain=False, grid=False, labelPadding=3, labelFontSize=16, labelFont=FONT,
                    labelOverlap=False, labelFlush=False, title=None)
sub_minor = alt.Axis(values=list(range(-50, 401, 10)), orient="left", offset=-4, tickSize=4, tickColor="#888",
                     tickWidth=1, domain=False, grid=False, labels=False, title=None)
sub = alt.layer(
    vrules(),
    alt.Chart(sub_df).mark_line(strokeWidth=2.6, strokeJoin="round").encode(
        x=X, y=alt.Y("v:Q", scale=sub_scale, axis=sub_axis), color=color, detail="seg:N"),
    alt.Chart(sub_df).mark_line(opacity=0).encode(
        x=X, y=alt.Y("v:Q", scale=sub_scale, axis=sub_minor), detail="seg:N"),
    alt.Chart(one).mark_rule(color="#000", strokeWidth=1.2).encode(
        x=alt.value(-54), y=alt.value(0), y2=alt.value(H_SUB)),
    label("累", -102.5, 173.5), label("計", -102.5, 220.5), label("収", -102.5, 267),
    label("縮", -102.5, 314), label("量", -102.5, 361),
    label("(m)", -2, 455, align="right"),
).resolve_axis(y="independent").properties(width=W, height=H_SUB)

# ---------------- groundwater panel ----------------
gw_scale = alt.Scale(domain=[-20, 10], nice=False, zero=False)
gw_axis = alt.Axis(values=list(range(-20, 11, 5)), orient="left", ticks=False, domain=False, grid=False,
                   labelPadding=3, labelFontSize=16, labelFont=FONT, labelOverlap=False, labelFlush=False,
                   title=None)
gw_minor = alt.Axis(values=list(range(-20, 11, 1)), orient="left", offset=-4, tickSize=4, tickColor="#888",
                    tickWidth=1, domain=False, grid=False, labels=False, title=None)
gw = alt.layer(
    vrules(),
    alt.Chart(gw_df).mark_line(strokeWidth=1.7, strokeJoin="round").encode(
        x=X, y=alt.Y("v:Q", scale=gw_scale, axis=gw_axis), color=color, detail="seg:N"),
    alt.Chart(gw_df).mark_line(opacity=0).encode(
        x=X, y=alt.Y("v:Q", scale=gw_scale, axis=gw_minor), detail="seg:N"),
    label("地", -46.5, 111), label("下", -46.5, 158), label("水", -46.5, 204), label("位", -46.5, 249),
).resolve_axis(y="independent").properties(width=W, height=H_GW)

chart = alt.vconcat(head, snow, sub, gw, spacing=0, bounds="flush").resolve_scale(
    y="independent").properties(padding=0).configure_view(stroke="#444", strokeWidth=1.2)

chart.save("out.html", embed_options={"renderer": "svg", "actions": False})
